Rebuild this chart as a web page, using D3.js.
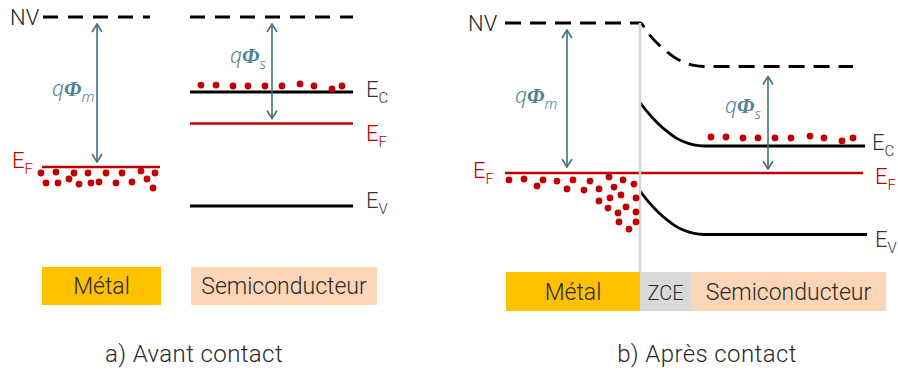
<!DOCTYPE html>
<html>
<head>
<meta charset="utf-8">
<script src="https://cdn.jsdelivr.net/npm/d3@7"></script>
<style>
  body { margin: 0; background: #fff; }
  text { font-family: Roboto, "Open Sans", sans-serif; font-weight: 300; }
</style>
</head>
<body>
<div id="chart"></div>
<script>
// energies in eV, vacuum level NV = 0 ; positions in arbitrary units along the device

// a) before contact : [level, energy, from, to]
const metalLevelsA = [["NV", 0, 1, 108], ["F", -5.0, 0, 118]];
const semiLevelsA  = [["NV", 0, 148, 311], ["C", -2.5, 148, 311], ["F", -3.55, 148, 311], ["V", -6.3, 148, 311]];
const metalDotsA = [[-1,-5.2],[14,-5.17],[32,-5.2],[46,-5.2],[64,-5.2],[80,-5.2],[99,-5.13],[113,-5.2],
  [4,-5.53],[16,-5.53],[27,-5.4],[37,-5.57],[49,-5.53],[57,-5.5],[74,-5.53],[90,-5.5],[105,-5.4],[111,-5.7]];
const semiDotsA = [[159,-2.27],[174,-2.27],[191,-2.3],[206,-2.3],[223,-2.3],[240,-2.3],[258,-2.23],[272,-2.3],[290,-2.4],[300,-2.3]];
const regionsA = [["Métal", 0, 119], ["Semiconducteur", 149, 335]];

// b) after contact : interface at 0
const bulkLevelsB = [["NV", -1.45, 213], ["C", -4.1, 225], ["V", -7.05, 227]];
const fermiB = [-5.0, -135, 223];
const metalNVB = [0, -135];
const bendPos = [0, 8, 18, 28, 36, 44, 54, 64];     // distance from interface
const bendEV  = [1.45, 1.11, 0.75, 0.46, 0.27, 0.14, 0.035, 0];  // band bending
const metalDotsB = [[-131,-5.23],[-116,-5.2],[-103,-5.43],[-97,-5.23],[-83,-5.27],[-73,-5.53],[-67,-5.23],
  [-56,-5.57],[-50,-5.27],[-41,-5.53],[-31,-5.13],[-26,-5.47],[-17,-5.23],[-6,-5.37],
  [-41,-5.93],[-30,-5.83],[-19,-5.73],[-4,-5.83],[-32,-6.17],[-22,-6.33],[-14,-6.13],[-4,-6.3],
  [-21,-6.63],[-4,-6.63],[-11,-6.87]];
const semiDotsB = [[71,-3.8],[86,-3.8],[103,-3.83],[118,-3.83],[135,-3.83],[151,-3.83],[170,-3.77],[184,-3.83],[202,-3.93],[213,-3.83]];
const regionsB = [["Métal", -134, 0], ["ZCE", 0, 51], ["Semiconducteur", 51, 246]];

const captions = ["a) Avant contact", "b) Après contact"];

const red = "#c00000", teal = "#41717f", tealText = "#4f8394";
const boxColor = {"Métal": "#ffc000", "ZCE": "#d9d9d9", "Semiconducteur": "#fbd5b5"};

const svg = d3.select("#chart").append("svg")
    .attr("width", 898).attr("height", 374);

svg.append("defs").append("marker")
    .attr("id", "arr").attr("viewBox", "0 0 10 12")
    .attr("refX", 9).attr("refY", 6)
    .attr("markerWidth", 10).attr("markerHeight", 12)
    .attr("markerUnits", "userSpaceOnUse")
    .attr("orient", "auto-start-reverse")
    .append("path").attr("d", "M1,1 L9,6 L1,11")
    .attr("fill", "none").attr("stroke", teal).attr("stroke-width", 1.6);

// scales
const xA = d3.scaleLinear().domain([0, 335]).range([42, 377]);
const yA = d3.scaleLinear().domain([0, -6.5]).range([17, 212]);
const xB = d3.scaleLinear().domain([-135, 225]).range([505, 865]);
const yB = d3.scaleLinear().domain([0, -7.5]).range([23, 248]);

function stroke(sel, key, dash) {
    sel.attr("fill", "none")
       .attr("stroke", key == "F" ? red : "#000")
       .attr("stroke-width", key == "F" ? 2.6 : 2.8)
       .attr("stroke-dasharray", key == "NV" ? dash : null);
}

function eLabel(x, y, sub, color) {
    const t = svg.append("text").attr("x", x).attr("y", y)
        .attr("fill", color).attr("font-size", 22).text("E");
    t.append("tspan").attr("font-size", 15).attr("dy", 6).text(sub);
}

function nvLabel(x, y) {
    svg.append("text").attr("x", x).attr("y", y).attr("fill", "#222")
        .attr("font-size", 22).text("NV");
}

function phiLabel(x, y, sub) {
    const t = svg.append("text").attr("x", x).attr("y", y).attr("fill", tealText).attr("font-size", 21);
    t.append("tspan").attr("font-style", "italic").attr("font-family", "'Noto Sans'").text("q");
    t.append("tspan").attr("font-style", "italic").attr("font-weight", 700)
        .attr("font-family", "'Liberation Serif'").attr("font-size", 22).text("Φ");
    t.append("tspan").attr("font-style", "italic").attr("font-family", "'Noto Sans'")
        .attr("font-size", 15).attr("dy", 6).text(sub);
}

function arrow(x, y1, y2) {
    svg.append("line").attr("x1", x).attr("x2", x).attr("y1", y1).attr("y2", y2)
        .attr("stroke", teal).attr("stroke-width", 1.6)
        .attr("marker-start", "url(#arr)").attr("marker-end", "url(#arr)");
}

function dots(data, xs, ys) {
    svg.append("g").selectAll("circle").data(data).join("circle")
        .attr("cx", d => xs(d[0])).attr("cy", d => ys(d[1]))
        .attr("r", 3.4).attr("fill", red);
}

function boxes(data, xs, y, h) {
    const g = svg.append("g").selectAll("g").data(data).join("g");
    g.append("rect")
        .attr("x", d => xs(d[1])).attr("y", y)
        .attr("width", d => xs(d[2]) - xs(d[1])).attr("height", h)
        .attr("fill", d => boxColor[d[0]]);
    g.append("text")
        .attr("x", d => (xs(d[1]) + xs(d[2])) / 2).attr("y", y + h / 2 + 8)
        .attr("text-anchor", "middle").attr("fill", "#2a2a2a")
        .attr("font-size", d => d[0] == "ZCE" ? 20 : 23).text(d => d[0]);
}

// ---------- a) Avant contact ----------
[...metalLevelsA, ...semiLevelsA].forEach(d => {
    svg.append("line")
        .attr("x1", xA(d[2])).attr("x2", xA(d[3]))
        .attr("y1", yA(d[1])).attr("y2", yA(d[1]))
        .call(stroke, d[0], "15,10");
});
dots(metalDotsA, xA, yA);
dots(semiDotsA, xA, yA);

arrow(xA(55), yA(0) + 7, yA(metalLevelsA[1][1]) - 5);
arrow(xA(230), yA(0) + 7, yA(semiLevelsA[2][1]) - 5);
phiLabel(52, 96, "m");
phiLabel(230, 63, "s");

nvLabel(10, 25);
eLabel(12, 168, "F", red);
semiLevelsA.slice(1).forEach(d => {
    const dy = {C: 5, F: 17, V: 2}[d[0]];
    eLabel(xA(d[3]) + 13, yA(d[1]) + dy, d[0], d[0] == "F" ? red : "#333");
});
boxes(regionsA, xA, 267, 38);

// ---------- b) Après contact ----------
// band profile near the interface, from the bending list
const bent = (E0, end) => bendPos.map((p, i) => [p, E0 + bendEV[i]]).concat([[end, E0]]);
const line = d3.line().x(d => xB(d[0])).y(d => yB(d[1])).curve(d3.curveMonotoneX);

svg.append("line")
    .attr("x1", xB(fermiB[1])).attr("x2", xB(fermiB[2]))
    .attr("y1", yB(fermiB[0])).attr("y2", yB(fermiB[0]))
    .call(stroke, "F");

bulkLevelsB.forEach(d => {
    let pts = bent(d[1], d[2]);
    if (d[0] == "NV") pts = [[metalNVB[1], metalNVB[0]]].concat(pts);
    svg.append("path").attr("d", line(pts)).call(stroke, d[0], "16,9");
});

// interface
svg.append("line")
    .attr("x1", xB(0)).attr("x2", xB(0)).attr("y1", yB(0)).attr("y2", 273)
    .attr("stroke", "#d4d4d4").attr("stroke-width", 2.6);

dots(metalDotsB, xB, yB);
dots(semiDotsB, xB, yB);

arrow(xB(-73), yB(0) + 7, yB(fermiB[0]) - 6);
arrow(xB(128), yB(bulkLevelsB[0][1]) + 10, yB(fermiB[0]) - 4);
phiLabel(515, 103, "m");
phiLabel(725, 113, "s");

nvLabel(468, 31);
eLabel(473, 178, "F", red);
eLabel(xB(bulkLevelsB[1][2]) + 7, yB(bulkLevelsB[1][1]) + 4, "C", "#333");
eLabel(xB(fermiB[2]) + 12, yB(fermiB[0]) + 11, "F", red);
eLabel(xB(bulkLevelsB[2][2]) + 8, yB(bulkLevelsB[2][1]) + 12, "V", "#333");
boxes(regionsB, xB, 272, 39);

// captions
svg.selectAll("text.cap").data(captions).join("text").attr("class", "cap")
    .attr("x", (d, i) => i == 0 ? 194 : 707).attr("y", 362)
    .attr("text-anchor", "middle").attr("font-size", 24).attr("letter-spacing", 0.4)
    .attr("fill", "#2a2a2a")
    .text(d => d);
</script>
</body>
</html>
